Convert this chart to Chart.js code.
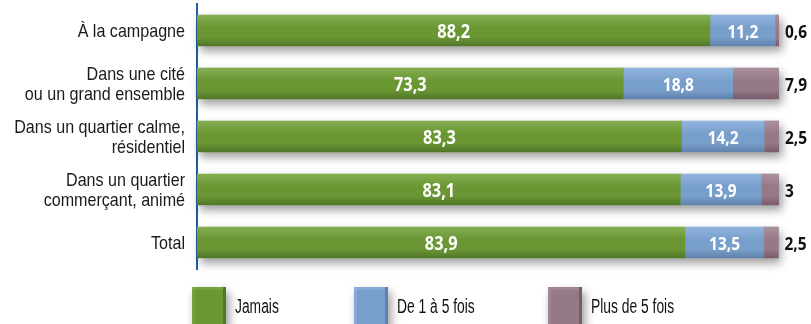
<!DOCTYPE html>
<html lang="fr">
<head>
<meta charset="utf-8">
<title>Fréquence selon le lieu de résidence</title>
<script src="https://cdn.jsdelivr.net/npm/chart.js@4.4.1/dist/chart.umd.min.js"></script>
<style>
  html, body { margin: 0; padding: 0; background: #fff; }
  #wrap { position: relative; width: 811px; height: 324px; }
</style>
</head>
<body>
<div id="wrap"><canvas id="graphique" width="811" height="324"></canvas></div>
<script>
// Catégories (lieu de résidence) et séries en %
const categories = [
  'À la campagne',
  ['Dans une cité ', 'ou un grand ensemble'],
  ['Dans un quartier calme,', 'résidentiel'],
  ['Dans un quartier ', 'commerçant, animé'],
  'Total'
];
const jamais = [88.2, 73.3, 83.3, 83.1, 83.9];
const deUnACinq = [11.2, 18.8, 14.2, 13.9, 13.5];
const plusDeCinq = [0.6, 7.9, 2.5, 3, 2.5];
const series = ['Jamais', 'De 1 à 5 fois', 'Plus de 5 fois'];

const SANS = '"Liberation Sans", Arial, sans-serif';
const CHIFFRES = '"Open Sans", "DejaVu Sans", sans-serif';

// couleurs : haut clair, milieu, bas foncé
const teintes = [
  { haut: '#86ae52', milieu: '#6a9733', bas: '#50762a' },
  { haut: '#92b5df', milieu: '#789fcb', bas: '#6081ab' },
  { haut: '#aa909e', milieu: '#967987', bas: '#785b6a' }
];

const virgule = v => String(v).replace('.', ',');

// texte étroit : police normale comprimée horizontalement
function texteEtroit(ctx, txt, x, y, echelle, align) {
  ctx.save();
  ctx.translate(x, y);
  ctx.scale(echelle, 1);
  ctx.textAlign = align;
  ctx.fillText(txt, 0, 0);
  ctx.restore();
}

// ombre portée floue derrière un rectangle
function ombre(ctx, x, y, w, h) {
  ctx.save();
  ctx.shadowColor = 'rgba(0,0,0,0.4)';
  ctx.shadowBlur = 9;
  ctx.shadowOffsetX = 3;
  ctx.shadowOffsetY = 5;
  ctx.fillStyle = '#fff';
  ctx.fillRect(x, y, w, h);
  ctx.restore();
}

// ombre sous chaque barre complète
const ombreBarres = {
  id: 'ombreBarres',
  beforeDatasetsDraw(chart) {
    const ctx = chart.ctx;
    const premier = chart.getDatasetMeta(0).data;
    const dernier = chart.getDatasetMeta(chart.data.datasets.length - 1).data;
    premier.forEach((el, i) => {
      ombre(ctx, el.base, el.y - el.height / 2, dernier[i].x - el.base, el.height);
    });
  }
};

// dégradé vertical par segment, puis étiquettes de valeurs
const reliefEtValeurs = {
  id: 'reliefEtValeurs',
  afterDatasetsDraw(chart) {
    const ctx = chart.ctx;
    const n = chart.data.datasets.length;
    ctx.save();
    chart.data.datasets.forEach((ds, d) => {
      const t = teintes[d];
      chart.getDatasetMeta(d).data.forEach(el => {
        const haut = el.y - el.height / 2;
        const g = ctx.createLinearGradient(0, haut, 0, haut + el.height);
        g.addColorStop(0, t.haut);
        g.addColorStop(0.4, t.milieu);
        g.addColorStop(0.72, t.milieu);
        g.addColorStop(1, t.bas);
        ctx.fillStyle = g;
        ctx.fillRect(el.base, haut, el.x - el.base, el.height);
      });
    });
    ctx.textBaseline = 'alphabetic';
    chart.data.datasets.forEach((ds, d) => {
      chart.getDatasetMeta(d).data.forEach((el, i) => {
        const txt = virgule(ds.data[i]);
        if (d === n - 1) {
          ctx.fillStyle = '#111';
          ctx.font = 'bold 18px ' + CHIFFRES;
          texteEtroit(ctx, txt, el.x + 6, el.y + 7, 0.86, 'left');
        } else {
          ctx.fillStyle = '#fff';
          ctx.font = (d === 0 ? 'bold 19px ' : 'bold 18px ') + CHIFFRES;
          texteEtroit(ctx, txt, (el.x + el.base) / 2, el.y + 7, 0.86, 'center');
        }
      });
    });
    ctx.restore();
  }
};

// libellés des catégories, alignés à droite contre l'axe
const libelles = {
  id: 'libelles',
  afterDraw(chart) {
    const ctx = chart.ctx;
    const y = chart.scales.y;
    ctx.save();
    ctx.fillStyle = '#1a1a1a';
    ctx.font = '18.5px ' + SANS;
    ctx.textBaseline = 'alphabetic';
    chart.data.labels.forEach((lab, i) => {
      const lignes = Array.isArray(lab) ? lab : [lab];
      const centre = y.getPixelForTick(i);
      lignes.forEach((l, k) => {
        const yy = centre + (k - (lignes.length - 1) / 2) * 20 + 6.5;
        texteEtroit(ctx, l.trimEnd(), y.right - 12, yy, 0.87, 'right');
      });
    });
    ctx.restore();
  }
};

// légende sous le graphique
const legendeBas = {
  id: 'legendeBas',
  afterDraw(chart, args, opts) {
    const ctx = chart.ctx;
    ctx.save();
    chart.data.datasets.forEach((ds, d) => {
      const x = opts.positions[d];
      const y = opts.top;
      const t = teintes[d];
      ombre(ctx, x, y, 34, 42);
      ctx.fillStyle = t.bas;
      ctx.fillRect(x, y, 34, 42);
      ctx.fillStyle = t.milieu;
      ctx.fillRect(x, y, 31, 39);
      ctx.fillStyle = t.haut;
      ctx.globalAlpha = 0.5;
      ctx.fillRect(x, y, 31, 3);
      ctx.fillRect(x, y, 3, 39);
      ctx.globalAlpha = 1;
      ctx.fillStyle = '#111';
      ctx.font = '19.5px ' + SANS;
      ctx.textBaseline = 'alphabetic';
      texteEtroit(ctx, ds.label, x + 43, y + 26, 0.71, 'left');
    });
    ctx.restore();
  }
};

new Chart(document.getElementById('graphique'), {
  type: 'bar',
  data: {
    labels: categories,
    datasets: [
      { label: series[0], data: jamais, backgroundColor: teintes[0].milieu },
      { label: series[1], data: deUnACinq, backgroundColor: teintes[1].milieu },
      { label: series[2], data: plusDeCinq, backgroundColor: teintes[2].milieu }
    ]
  },
  options: {
    indexAxis: 'y',
    responsive: false,
    animation: false,
    devicePixelRatio: 1,
    barThickness: 31,
    layout: { padding: { top: 4, right: 32, bottom: 55, left: 0 } },
    scales: {
      x: { stacked: true, min: 0, max: 100, display: false },
      y: {
        stacked: true,
        grid: { display: false, drawTicks: false },
        border: { display: true, color: '#1f5e9c', width: 2 },
        ticks: { display: false },
        afterFit(scale) {
          scale.width = 197;
          scale.paddingTop = 0;
          scale.paddingBottom = 0;
        }
      }
    },
    plugins: {
      legend: { display: false },
      tooltip: { enabled: false },
      legendeBas: { positions: [192, 354, 548], top: 287 }
    }
  },
  plugins: [ombreBarres, reliefEtValeurs, libelles, legendeBas]
});
</script>
</body>
</html>
